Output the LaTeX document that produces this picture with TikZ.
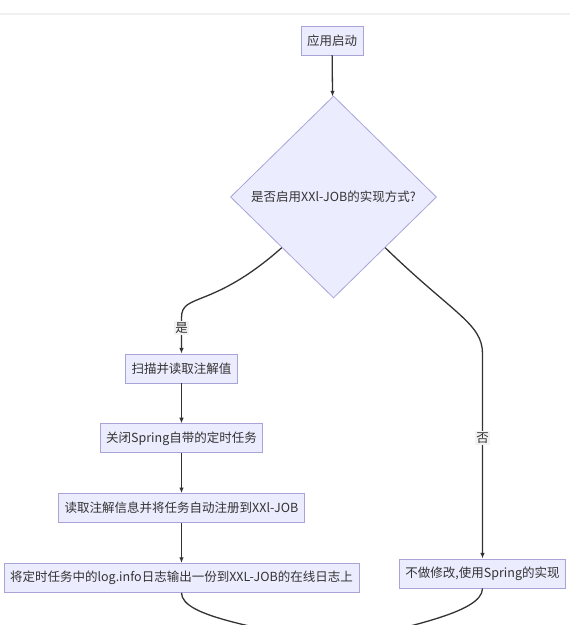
\documentclass[tikz,border=0pt]{standalone}
\usepackage{fontspec}
\setmainfont{Noto Sans CJK SC}
\usetikzlibrary{arrows.meta,positioning,shapes.geometric,calc}
\definecolor{boxfill}{HTML}{ECECFF}
\definecolor{boxline}{HTML}{A8A4D8}
\definecolor{ink}{HTML}{333333}
\tikzset{
  box/.style  = {draw=boxline, fill=boxfill, align=center, text=ink,
                 inner xsep=6pt, inner ysep=0pt, minimum height=29pt,
                 font=\fontsize{12.5pt}{15pt}\selectfont, line width=0.8pt},
  ask/.style  = {diamond, draw=boxline, fill=boxfill, text=ink, inner sep=0pt,
                 minimum width=206pt, minimum height=202pt,
                 font=\fontsize{12.5pt}{15pt}\selectfont, line width=0.8pt},
  lab/.style  = {fill=black!5, text=ink, inner sep=1.5pt,
                 font=\fontsize{12.5pt}{15pt}\selectfont},
  arr/.style  = {-{Latex[length=2mm,width=1.6mm]}, draw=ink, line width=1.3pt},
  line/.style = {draw=ink, line width=1.3pt},
}
\begin{document}
\begin{tikzpicture}[x=1pt,y=1pt]
  \useasboundingbox (0,0) rectangle (580,-625);
  \clip (0,0) rectangle (580,-625);
  \draw[black!6, line width=1.5pt] (0,-14) -- (570,-14);

  \node[box] (start) at (332,-40.5) {应用启动};
  \node[ask] (ask) at (333.5,-197) {是否启用XXl-JOB的实现方式?};

  % yes branch
  \node[box] (scan) at (181.5,-368.5) {扫描并读取注解值};
  \node[box, below=40pt of scan] (stop) {关闭Spring自带的定时任务};
  \node[box, below=40pt of stop] (reg) {读取注解信息并将任务自动注册到XXl-JOB};
  \node[box, below=40pt of reg] (log) {将定时任务中的log.info日志输出一份到XXL-JOB的在线日志上};

  % no branch
  \node[box] (keep) at (482.5,-573.5) {不做修改,使用Spring的实现};
  \coordinate (fin) at (333,-645);

  \draw[arr] (start) -- (ask);
  \draw[arr] (ask.south west) .. controls +(-70,-62) and +(0,25) .. ($(scan.north)+(0,36)$) -- (scan.north);
  \node[lab] (yes) at ($(scan.north)+(0,26)$) {是};
  \draw[arr] (ask.south east) .. controls +(68,-66) and +(0,30) .. ($(keep.north)+(0,205)$) -- (keep.north);
  \node[lab] (no) at ($(keep.north)+(0,121)$) {否};
  \draw[arr] (scan) -- (stop);
  \draw[arr] (stop) -- (reg);
  \draw[arr] (reg) -- (log);

  % both lead on below
  \draw[line] (log.south) .. controls +(0,-25) and +(-70,18) .. (fin);
  \draw[line] (keep.south) .. controls +(0,-25) and +(70,18) .. (fin);
\end{tikzpicture}
\end{document}
